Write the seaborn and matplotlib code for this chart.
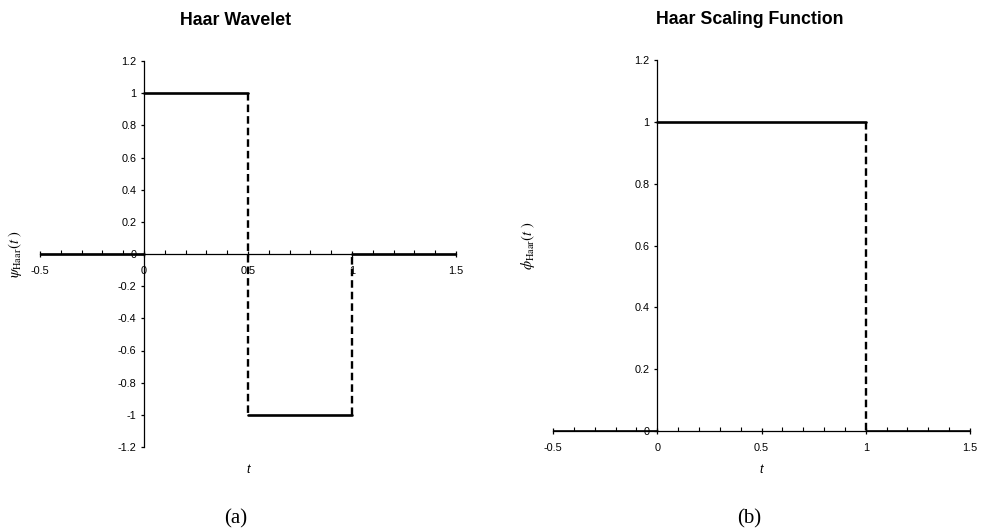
import numpy as np
import pandas as pd
import matplotlib
matplotlib.use("Agg")
import matplotlib.pyplot as plt
from matplotlib.ticker import MultipleLocator, FixedLocator, FixedFormatter
import seaborn as sns

# Haar wavelet: piecewise-constant levels between breakpoints
psi_edges = [-0.5, 0.0, 0.5, 1.0, 1.5]
psi_levels = [0, 1, -1, 0]

# Haar scaling function
phi_edges = [-0.5, 0.0, 1.0, 1.5]
phi_levels = [0, 1, 0]

x_ticks = [-0.5, 0, 0.5, 1, 1.5]
x_tick_labels = ["-0.5", "0", "0.5", "1", "1.5"]
psi_y_ticks = [-1.2, -1.0, -0.8, -0.6, -0.4, -0.2, 0, 0.2, 0.4, 0.6, 0.8, 1.0, 1.2]
psi_y_labels = ["-1.2", "-1", "-0.8", "-0.6", "-0.4", "-0.2", "0",
                "0.2", "0.4", "0.6", "0.8", "1", "1.2"]
phi_y_ticks = [0, 0.2, 0.4, 0.6, 0.8, 1.0, 1.2]
phi_y_labels = ["0", "0.2", "0.4", "0.6", "0.8", "1", "1.2"]

sns.set_style("ticks")
plt.rcParams["font.family"] = ["Liberation Sans", "DejaVu Sans"]
plt.rcParams["mathtext.fontset"] = "stix"
plt.rcParams["text.color"] = "black"
plt.rcParams["axes.labelcolor"] = "black"
plt.rcParams["xtick.color"] = "black"
plt.rcParams["ytick.color"] = "black"

SANS = "Liberation Sans"
SERIF = "Liberation Serif"


def step_frames(edges, levels):
    """Horizontal pieces and the vertical jumps between them."""
    h_rows, v_rows = [], []
    for i, lev in enumerate(levels):
        h_rows += [(i, edges[i], lev), (i, edges[i + 1], lev)]
    for i in range(1, len(levels)):
        x = edges[i]
        if x == 0:  # the jump at t = 0 runs along the vertical axis
            continue
        v_rows += [(i, x, levels[i - 1]), (i, x, levels[i])]
    cols = ["seg", "t", "v"]
    return pd.DataFrame(h_rows, columns=cols), pd.DataFrame(v_rows, columns=cols)


def draw_panel(ax, edges, levels, yticks, ylabels, title, ylabel, title_y, xlabel_y):
    h, v = step_frames(edges, levels)
    sns.lineplot(data=h, x="t", y="v", units="seg", estimator=None, sort=False,
                 color="black", lw=1.9, ax=ax, legend=False)
    if len(v):
        sns.lineplot(data=v, x="t", y="v", units="seg", estimator=None, sort=False,
                     color="black", lw=1.7, linestyle=(0, (3.2, 1.7)), ax=ax,
                     legend=False)

    ax.set_xlim(-0.5, 1.5)
    ax.set_ylim(min(yticks), max(yticks))

    for side in ("top", "right"):
        ax.spines[side].set_visible(False)
    ax.spines["left"].set_position(("data", 0))
    ax.spines["bottom"].set_position(("data", 0))
    for side in ("left", "bottom"):
        ax.spines[side].set_linewidth(0.9)
        ax.spines[side].set_color("black")

    ax.xaxis.set_major_locator(FixedLocator(x_ticks))
    ax.xaxis.set_major_formatter(FixedFormatter(x_tick_labels))
    ax.xaxis.set_minor_locator(MultipleLocator(0.1))
    ax.yaxis.set_major_locator(FixedLocator(yticks))
    ax.yaxis.set_major_formatter(FixedFormatter(ylabels))

    ax.tick_params(axis="x", which="major", direction="inout", length=5,
                   width=0.9, color="black", pad=6, labelsize=7.8,
                   labelcolor="black")
    ax.tick_params(axis="x", which="minor", direction="in", length=3,
                   width=0.8, color="black")
    ax.tick_params(axis="y", which="major", direction="out", length=2.5,
                   width=0.9, color="black", pad=3, labelsize=7.8,
                   labelcolor="black")
    for lab in ax.get_xticklabels() + ax.get_yticklabels():
        lab.set_fontfamily(SANS)

    ax.set_title(title, fontsize=12.8, fontweight="bold", family=SANS,
                 color="black", x=0.471, y=title_y, pad=0)
    ax.set_ylabel(ylabel, fontsize=10.5, color="black")
    ax.yaxis.set_label_coords(-0.038, 0.5)
    ax.set_xlabel("t", fontsize=9, style="italic", family=SANS, color="black")
    ax.xaxis.set_label_coords(0.5, xlabel_y)


fig = plt.figure(figsize=(9.82, 5.31), dpi=100)
ax_a = fig.add_axes([40 / 982, 84 / 531, 416 / 982, 386 / 531])
ax_b = fig.add_axes([553 / 982, 100 / 531, 417 / 982, 371 / 531])

draw_panel(ax_a, psi_edges, psi_levels, psi_y_ticks, psi_y_labels,
           "Haar Wavelet", r"$\psi_{\rm Haar}(t\ )$", 1.093, -0.044)
draw_panel(ax_b, phi_edges, phi_levels, phi_y_ticks, phi_y_labels,
           "Haar Scaling Function", r"$\phi_{\rm Haar}(t\ )$", 1.097, -0.089)

fig.text(236 / 982, 1 - 519 / 531, "(a)", family=SERIF, fontsize=15,
         ha="center", va="center", color="black")
fig.text(749 / 982, 1 - 519 / 531, "(b)", family=SERIF, fontsize=15,
         ha="center", va="center", color="black")

fig.savefig("out.png", dpi=100, facecolor="white")
